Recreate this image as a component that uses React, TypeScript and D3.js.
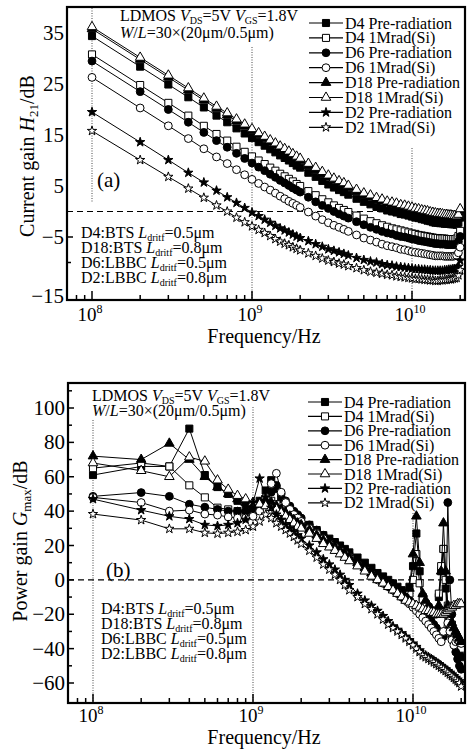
import React from 'react';
import * as d3 from 'd3';

// Frequency points (GHz)
const FREQ_GHZ = [0.1,0.2,0.3,0.4,0.5,0.6,0.7,0.8,0.9,1.0,1.1,1.2,1.3,1.4,1.5,1.6,1.7,1.8,1.9,2.0,2.25,2.5,2.75,3,3.25,3.5,3.75,4,4.5,5,5.5,6,6.5,7,7.5,8,8.5,9,9.5,10,10.5,11,11.5,12,12.5,13,13.5,14,14.5,15,15.5,16,16.5,17,17.5,18,18.5,19,19.5,20];

const SERIES_NAMES = ['D4 Pre-radiation','D4 1Mrad(Si)','D6 Pre-radiation','D6 1Mrad(Si)','D18 Pre-radiation','D18 1Mrad(Si)','D2 Pre-radiation','D2 1Mrad(Si)'];
const SERIES_MARKERS = ['square','square','circle','circle','triangle','triangle','star','star'];
const SERIES_FILLED = [true,false,true,false,true,false,true,false];

// (a) Current gain H21 (dB)
const H21_D4_PRE = [34.4,28.4,24.9,22.4,20.4,18.8,17.5,16.3,15.3,14.4,13.6,12.9,12.2,11.6,11.0,10.5,10.0,9.5,9.0,8.6,7.6,6.8,6.0,5.3,4.7,4.2,3.8,3.3,2.5,1.9,1.4,0.9,0.6,0.2,0.0,-0.2,-0.5,-0.6,-0.8,-1.0,-1.2,-1.3,-1.5,-1.6,-1.8,-1.9,-2.1,-2.2,-2.2,-2.3,-2.3,-2.4,-2.4,-2.4,-2.5,-2.5,-2.5,-2.6,-2.2,-1.2];
const H21_D4_1M = [30.8,24.8,21.3,18.8,16.8,15.2,13.9,12.7,11.7,10.8,10.0,9.3,8.6,8.0,7.4,6.9,6.4,5.9,5.4,5.0,4.0,3.2,2.4,1.8,1.2,0.7,0.3,-0.1,-0.8,-1.4,-1.9,-2.3,-2.7,-3.0,-3.3,-3.5,-3.7,-3.9,-4.1,-4.3,-4.4,-4.6,-4.7,-4.8,-4.9,-5.0,-5.1,-5.2,-5.2,-5.3,-5.3,-5.3,-5.4,-5.4,-5.4,-5.4,-5.4,-5.3,-4.8,-3.8];
const H21_D6_PRE = [29.5,23.5,20.0,17.5,15.5,13.9,12.6,11.4,10.4,9.5,8.7,8.0,7.3,6.7,6.1,5.6,5.1,4.6,4.2,3.8,2.8,1.9,1.2,0.6,0.0,-0.5,-0.9,-1.3,-2.0,-2.6,-3.1,-3.5,-3.9,-4.2,-4.4,-4.7,-4.9,-5.0,-5.2,-5.4,-5.5,-5.7,-5.8,-5.9,-6.0,-6.1,-6.2,-6.3,-6.3,-6.4,-6.4,-6.4,-6.5,-6.5,-6.5,-6.5,-6.5,-6.4,-5.9,-4.9];
const H21_D6_1M = [26.3,20.3,16.8,14.3,12.3,10.7,9.4,8.2,7.2,6.3,5.5,4.8,4.2,3.6,3.0,2.5,2.0,1.6,1.2,0.8,-0.1,-0.9,-1.6,-2.2,-2.7,-3.1,-3.5,-3.9,-4.6,-5.2,-5.6,-6.0,-6.4,-6.7,-6.9,-7.1,-7.4,-7.5,-7.7,-7.9,-8.0,-8.1,-8.2,-8.3,-8.4,-8.5,-8.6,-8.7,-8.7,-8.7,-8.7,-8.8,-8.8,-8.8,-8.8,-8.8,-8.7,-8.6,-8.1,-7.0];
const H21_D18_PRE = [35.8,29.8,26.3,23.8,21.8,20.2,18.9,17.7,16.7,15.8,15.0,14.3,13.6,13.0,12.4,11.9,11.4,10.9,10.4,10.0,9.0,8.2,7.4,6.7,6.1,5.6,5.2,4.7,3.9,3.2,2.8,2.3,2.0,1.6,1.4,1.2,0.9,0.8,0.6,0.4,0.2,0.1,-0.1,-0.2,-0.3,-0.5,-0.6,-0.7,-0.8,-0.8,-0.9,-1.0,-1.0,-1.1,-1.1,-1.2,-1.2,-1.3,-1.0,0.1];
const H21_D18_1M = [36.2,30.2,26.7,24.2,22.2,20.6,19.3,18.1,17.1,16.2,15.4,14.7,14.0,13.4,12.8,12.3,11.8,11.3,10.8,10.4,9.4,8.6,7.8,7.1,6.5,6.0,5.6,5.1,4.3,3.6,3.2,2.7,2.4,2.0,1.8,1.6,1.3,1.2,1.0,0.8,0.6,0.5,0.3,0.2,0.1,-0.1,-0.2,-0.3,-0.4,-0.4,-0.5,-0.6,-0.6,-0.7,-0.7,-0.8,-0.8,-0.9,-0.6,0.5];
const H21_D2_PRE = [19.5,13.6,10.1,7.6,5.7,4.1,2.8,1.7,0.7,-0.2,-0.9,-1.6,-2.2,-2.8,-3.3,-3.7,-4.1,-4.5,-4.9,-5.2,-5.8,-6.4,-6.9,-7.4,-7.7,-8.0,-8.3,-8.6,-9.1,-9.5,-9.8,-10.0,-10.3,-10.5,-10.6,-10.8,-10.9,-11.0,-11.1,-11.2,-11.3,-11.3,-11.4,-11.4,-11.5,-11.5,-11.6,-11.6,-11.6,-11.6,-11.6,-11.5,-11.5,-11.4,-11.4,-11.3,-11.3,-11.2,-10.8,-9.6];
const H21_D2_1M = [15.8,10.1,6.8,4.5,2.7,1.2,0.0,-1.2,-2.1,-2.9,-3.6,-4.2,-4.8,-5.4,-5.9,-6.3,-6.6,-7.0,-7.3,-7.6,-8.2,-8.7,-9.2,-9.6,-9.9,-10.2,-10.4,-10.7,-11.1,-11.5,-11.8,-12.0,-12.2,-12.4,-12.5,-12.7,-12.8,-12.9,-13.0,-13.1,-13.2,-13.2,-13.3,-13.4,-13.4,-13.5,-13.5,-13.6,-13.6,-13.5,-13.5,-13.4,-13.4,-13.3,-13.3,-13.2,-13.1,-13.0,-12.5,-11.5];

// (b) Power gain Gmax (dB)
const GMAX_D4_PRE = [61,66,66,88,61,54,50,46,44,43,46,52,58,53,47,44,41,39,37,35,32,29,26,24,22,20,18,16,13,10,7,4,2,0,-2,-4,-6,-8,-4,8,27,5,-10,-14,-16,-18,-20,-18,-10,5,18,-5,-20,-28,-32,-35,-37,-40,-42,-45];
const GMAX_D4_1M = [65,68,66,55,48,42,41,40,39,40,42,44,46,44,41,39,37,35,33,31,28,25,22,20,18,16,14,12,9,6,3,1,-1,-3,-5,-7,-9,-10,-8,0,15,-2,-12,-15,-17,-19,-20,-18,-8,8,18,0,-15,-22,-26,-30,-32,-35,-37,-40];
const GMAX_D6_PRE = [48.6,50.8,48.6,44,42.3,41,40,40,40,41,43,47,51,55,50,46,43,40,38,36,32,29,26,23,21,19,17,15,11,8,5,2,0,-2,-4,-6,-8,-10,-12,-14,-15,-16,-18,-20,-22,-24,-26,-28,-30,-32,-33,-30,45,0,-20,-35,-42,-46,-50,-52];
const GMAX_D6_1M = [48,45,40,40.6,38.3,37.7,36.6,36,36,37,40,48,56,62,51,45,41,38,36,34,30,27,24,21,19,17,15,13,9,6,3,0,-2,-4,-6,-8,-10,-12,-14,-16,-18,-20,-22,-24,-26,-28,-30,-32,-34,-36,-30,-20,-25,-30,-35,-38,-36,-35,-36,-37];
const GMAX_D18_PRE = [72,70,79.4,70,60,54,50,47,45,44,45,46,45,43,41,39,37,35,33,32,29,26,23,21,19,17,15,13,10,7,4,1,-1,-3,-5,-7,-9,-11,-5,15,37,10,-8,-12,-15,-17,-19,-20,-15,5,33,5,-15,-20,-25,-28,-30,-32,-34,-36];
const GMAX_D18_1M = [68,63.5,60,71.4,69,58,52.6,49,47,45,44,43,42,41,39,37,35,33,31,30,27,24,21,19,17,15,13,11,8,5,2,0,-2,-4,-6,-8,-10,-12,-13,-14,-15,-16,-17,-18,-18,-19,-19,-20,-20,-20,-20,-19,-18,-17,-16,-15,-15,-14,-14,-14];
const GMAX_D2_PRE = [47,40.6,37,35.4,32,31.4,32,33,35,45,59,48,42,38,35,32,30,28,26,24,20,16,12,9,6,3,0,-3,-8,-12,-15,-18,-21,-24,-27,-29,-31,-33,-35,-37,-39,-41,-43,-44,-45,-46,-47,-48,-49,-50,-51,-52,-53,-54,-55,-56,-57,-58,-59,-60];
const GMAX_D2_1M = [38.3,34.8,29.7,29.7,27.4,26.9,27.4,28,29,31,34,38,36,33,31,29,27,25,23,21,17,13,9,6,3,0,-3,-6,-10,-14,-17,-20,-23,-26,-28,-30,-32,-34,-36,-38,-40,-42,-44,-45,-46,-47,-48,-49,-50,-51,-52,-53,-54,-55,-56,-57,-58,-59,-60,-62];

const H21_SERIES = [H21_D4_PRE,H21_D4_1M,H21_D6_PRE,H21_D6_1M,H21_D18_PRE,H21_D18_1M,H21_D2_PRE,H21_D2_1M];
const GMAX_SERIES = [GMAX_D4_PRE,GMAX_D4_1M,GMAX_D6_PRE,GMAX_D6_1M,GMAX_D18_PRE,GMAX_D18_1M,GMAX_D2_PRE,GMAX_D2_1M];

const H21_TICKS = [35,25,15,5,-5,-15];
const GMAX_TICKS = [100,80,60,40,20,0,-20,-40,-60];
const NOTES = [['D4:BTS ','0.5μm'],['D18:BTS ','0.8μm'],['D6:LBBC ','0.5μm'],['D2:LBBC ','0.8μm']];

const FONT = '"Liberation Serif", "Times New Roman", Times, serif';

const symbolPath = (kind: string) => {
  const t = kind === 'square' ? d3.symbolSquare : kind === 'circle' ? d3.symbolCircle : kind === 'triangle' ? d3.symbolTriangle : d3.symbolStar;
  const size = kind === 'square' ? 50 : kind === 'circle' ? 48 : kind === 'triangle' ? 40 : 27;
  return d3.symbol().type(t).size(size)() as string;
};

function Marker({ kind, filled, x, y }: any) {
  return <path d={symbolPath(kind)} transform={`translate(${x},${y})`} fill={filled ? '#000' : '#fff'} stroke="#000" strokeWidth={1} />;
}

function Panel({ cfg, series, id }: any) {
  const { left, right, top, bottom, x, y } = cfg;
  const line = d3.line<number>().x((_, i) => x(FREQ_GHZ[i] * 1e9)).y((v) => y(v));
  const minor: number[] = [];
  for (let e = 7; e <= 10; e++) for (let m = 1; m <= 9; m++) {
    const f = m * Math.pow(10, e);
    const px = x(f);
    if (px > left + 2 && px < right - 2) minor.push(f);
  }
  return (
    <g>
      <defs>
        <clipPath id={id}><rect x={left} y={top} width={right - left} height={bottom - top} /></clipPath>
      </defs>
      <line x1={left} x2={right} y1={y(0)} y2={y(0)} stroke="#000" strokeWidth={1.2} strokeDasharray="6,4" />
      {cfg.grid.map((g: any, i: number) => (
        <line key={i} x1={x(g[0])} x2={x(g[0])} y1={g[1]} y2={g[2]} stroke="#333" strokeWidth={0.9} strokeDasharray="1,1.5" />
      ))}
      <g clipPath={`url(#${id})`}>
        {series.map((s: number[], si: number) => (
          <g key={si}>
            <path d={line(s) as string} fill="none" stroke="#000" strokeWidth={1} />
            {s.map((v, i) => (
              <Marker key={i} kind={SERIES_MARKERS[si]} filled={SERIES_FILLED[si]} x={x(FREQ_GHZ[i] * 1e9)} y={y(v)} />
            ))}
          </g>
        ))}
      </g>
      {minor.map((f, i) => {
        const major = Math.abs(Math.log10(f) - Math.round(Math.log10(f))) < 1e-9;
        return <line key={i} x1={x(f)} x2={x(f)} y1={bottom} y2={bottom - (major ? 9 : 5)} stroke="#000" strokeWidth={1.5} />;
      })}
      {[8, 9, 10].map((e) => (
        <text key={e} x={x(Math.pow(10, e)) - 2} y={cfg.xLabelY} textAnchor="middle" fontSize={19} fontFamily={FONT}>
          10<tspan fontSize={12} dy={-8}>{e}</tspan>
        </text>
      ))}
      {cfg.yTicks.map((t: number) => (
        <line key={'t' + t} x1={left} x2={left + 6} y1={y(t)} y2={y(t)} stroke="#000" strokeWidth={1.5} />
      ))}
      {cfg.yMinor.map((t: number) => (
        <line key={'m' + t} x1={left} x2={left + 4} y1={y(t)} y2={y(t)} stroke="#000" strokeWidth={1.5} />
      ))}
      {cfg.yLabels.map((t: number) => (
        <text key={'l' + t} x={left - 3} y={y(t) + cfg.labelDy(t)} textAnchor="end" dominantBaseline="central" fontSize={21} fontFamily={FONT}>
          {t < 0 ? '\u2212' + Math.abs(t) : String(t)}
        </text>
      ))}
      <rect x={left} y={top} width={right - left} height={bottom - top} fill="none" stroke="#000" strokeWidth={2.2} />
      <text x={264} y={cfg.titleY} textAnchor="middle" fontSize={20} fontFamily={FONT}>Frequency/Hz</text>
    </g>
  );
}

function Legend({ x0, y0, step }: any) {
  return (
    <g>
      {SERIES_NAMES.map((n, i) => {
        const cy = y0 + i * step;
        return (
          <g key={n}>
            <line x1={x0} x2={x0 + 34} y1={cy} y2={cy} stroke="#000" strokeWidth={1.2} />
            <Marker kind={SERIES_MARKERS[i]} filled={SERIES_FILLED[i]} x={x0 + 17} y={cy} />
            <text x={x0 + 36} y={cy + 5.5} fontSize={16} fontFamily={FONT}>{n}</text>
          </g>
        );
      })}
    </g>
  );
}

function Header({ x, y1, y2 }: any) {
  return (
    <g fontFamily={FONT} fontSize={16}>
      <text x={x} y={y1}>LDMOS <tspan fontStyle="italic">V</tspan><tspan fontSize={10} dy={3}>DS</tspan><tspan dy={-3}>=5V </tspan><tspan fontStyle="italic">V</tspan><tspan fontSize={10} dy={3}>GS</tspan><tspan dy={-3}>=1.8V</tspan></text>
      <text x={x} y={y2}><tspan fontStyle="italic">W</tspan>/<tspan fontStyle="italic">L</tspan>=30×(20μm/0.5μm)</text>
    </g>
  );
}

function Notes({ x, y0 }: any) {
  return (
    <g fontFamily={FONT} fontSize={16}>
      {NOTES.map((n, i) => (
        <text key={i} x={x} y={y0 + i * 15}>{n[0]}<tspan fontStyle="italic">L</tspan><tspan fontSize={10} dy={3}>dritf</tspan><tspan dy={-3}>={n[1]}</tspan></text>
      ))}
    </g>
  );
}

export default function App() {
  const topCfg = {
    left: 67, right: 465, top: 7, bottom: 300,
    x: d3.scaleLog().domain([1e8, 1e10]).range([92, 412]),
    y: d3.scaleLinear().domain([-15, 35]).range([288, 33]),
    yTicks: [-5], yMinor: [-10], yLabels: H21_TICKS,
    labelDy: (t: number) => (t === -15 ? 8 : 0),
    xLabelY: 321, titleY: 343,
    grid: [[1e8, 8, 203], [1e9, 47, 299], [1e10, 148, 299]],
  };
  const botCfg = {
    left: 68, right: 465, top: 383, bottom: 703,
    x: d3.scaleLog().domain([1e8, 1e10]).range([93, 413]),
    y: d3.scaleLinear().domain([-60, 100]).range([683, 408]),
    yTicks: GMAX_TICKS, yMinor: [110, 90, 70, 50, 30, 10, -10, -30, -50], yLabels: GMAX_TICKS,
    labelDy: () => 0,
    xLabelY: 722, titleY: 744,
    grid: [[1e8, 420, 702], [1e9, 407, 702], [1e10, 513, 702]],
  };
  return (
    <svg width={467} height={751} style={{ position: 'absolute', left: 0, top: 0, background: '#fff' }} fontFamily={FONT}>
      <rect width={467} height={751} fill="#fff" />
      <Panel cfg={topCfg} series={H21_SERIES} id="clipA" />
      <Panel cfg={botCfg} series={GMAX_SERIES} id="clipB" />
      <Header x={120} y1={21} y2={38} />
      <Header x={92} y1={401} y2={416} />
      <Legend x0={309} y0={23} step={14.9} />
      <Legend x0={308} y0={402} step={14.4} />
      <Notes x={81} y0={237.5} />
      <Notes x={101} y0={613.5} />
      <text x={97} y={187} fontSize={21} fontFamily={FONT}>(a)</text>
      <text x={106} y={577} fontSize={21} fontFamily={FONT}>(b)</text>
      <text transform="translate(34,156) rotate(-90)" textAnchor="middle" fontSize={20} fontFamily={FONT}>
        Current gain <tspan fontStyle="italic">H</tspan><tspan fontSize={13} dy={4}>21</tspan><tspan dy={-4}>/dB</tspan>
      </text>
      <text transform="translate(27,541) rotate(-90)" textAnchor="middle" fontSize={20} fontFamily={FONT}>
        Power gain <tspan fontStyle="italic">G</tspan><tspan fontSize={13} dy={4}>max</tspan><tspan dy={-4}>/dB</tspan>
      </text>
    </svg>
  );
}
